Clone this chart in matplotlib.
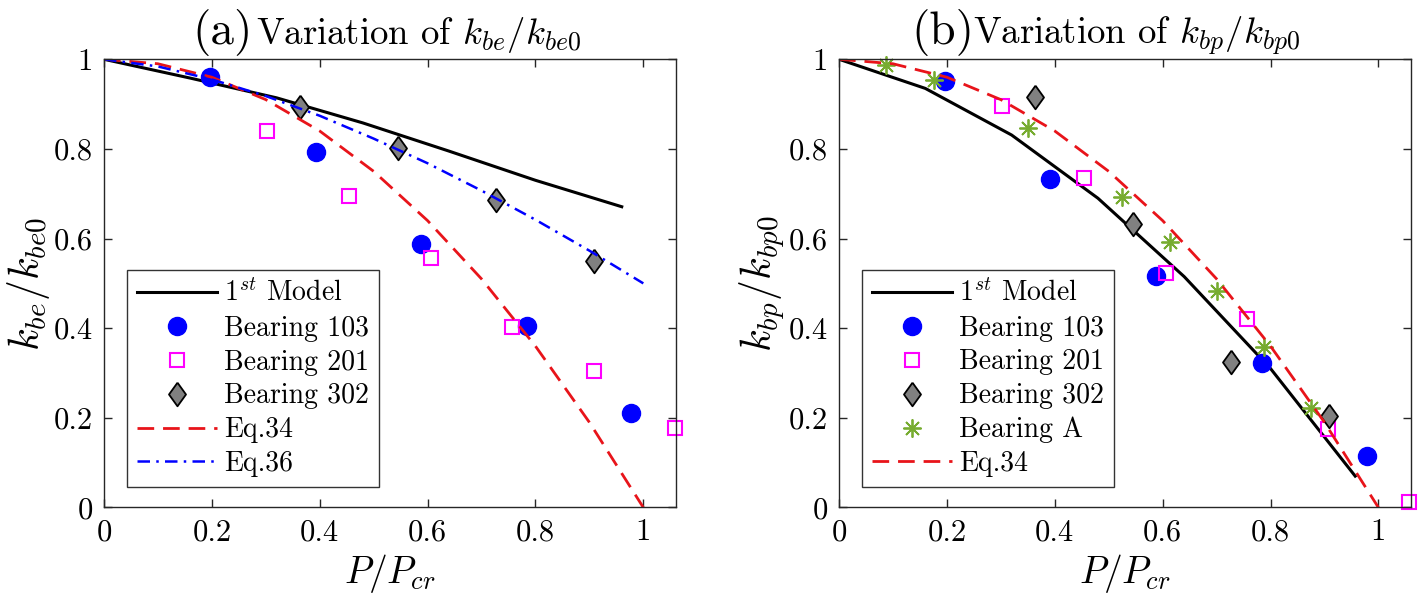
import matplotlib
matplotlib.use("Agg")
import matplotlib.pyplot as plt

plt.rcParams['font.family'] = 'serif'
plt.rcParams['font.serif'] = ['cmr10']
plt.rcParams['mathtext.fontset'] = 'cm'
plt.rcParams['axes.formatter.use_mathtext'] = True

# ---- panel (a) data ----
model_a_x = [0, 0.16, 0.32, 0.48, 0.64, 0.80, 0.96]
model_a_y = [1.0, 0.958, 0.914, 0.858, 0.795, 0.730, 0.671]
b103_a_x = [0.196, 0.393, 0.588, 0.784, 0.978]
b103_a_y = [0.961, 0.794, 0.588, 0.405, 0.210]
b201_a_x = [0.303, 0.454, 0.606, 0.757, 0.908, 1.059]
b201_a_y = [0.841, 0.696, 0.556, 0.403, 0.305, 0.178]
b302_a_x = [0.363, 0.545, 0.726, 0.908]
b302_a_y = [0.894, 0.803, 0.686, 0.551]
eq_x = [0, 0.1, 0.2, 0.3, 0.4, 0.5, 0.6, 0.7, 0.8, 0.9, 1.0]
eq34_y = [1.0, 0.99, 0.96, 0.91, 0.84, 0.75, 0.64, 0.51, 0.36, 0.19, 0.0]
eq36_y = [1.0, 0.984, 0.955, 0.918, 0.874, 0.823, 0.768, 0.707, 0.642, 0.573, 0.50]

# ---- panel (b) data ----
model_b_x = [0, 0.16, 0.32, 0.48, 0.64, 0.80, 0.957]
model_b_y = [1.0, 0.935, 0.831, 0.690, 0.515, 0.310, 0.070]
b103_b_x = [0.196, 0.392, 0.587, 0.784, 0.978]
b103_b_y = [0.952, 0.733, 0.516, 0.323, 0.115]
b201_b_x = [0.303, 0.454, 0.606, 0.756, 0.907, 1.057]
b201_b_y = [0.896, 0.734, 0.524, 0.420, 0.175, 0.0125]
b302_b_x = [0.363, 0.545, 0.726, 0.908]
b302_b_y = [0.915, 0.632, 0.324, 0.204]
bA_x = [0.087, 0.176, 0.350, 0.525, 0.613, 0.701, 0.787, 0.875]
bA_y = [0.987, 0.954, 0.847, 0.693, 0.593, 0.483, 0.358, 0.221]

ticks = [0, 0.2, 0.4, 0.6, 0.8, 1]
tick_labels = ['0', '0.2', '0.4', '0.6', '0.8', '1']

diamond = [(0, 1), (0.72, 0), (0, -1), (-0.72, 0), (0, 1)]
red = '#E8141A'
green = '#77AC30'

fig = plt.figure(figsize=(14.24, 6.03), dpi=100)
ax1 = fig.add_axes([0.0730, 0.1584, 0.4015, 0.7433])
ax2 = fig.add_axes([0.5892, 0.1584, 0.4015, 0.7433])


def style(ax, ylab):
    ax.set_xlim(0, 1.06)
    ax.set_ylim(0, 1)
    ax.set_xticks(ticks)
    ax.set_xticklabels(tick_labels)
    ax.set_yticks(ticks)
    ax.set_yticklabels(tick_labels)
    ax.tick_params(direction='in', top=True, right=True, length=6, width=1,
                   labelsize=22, colors='#262626', pad=8)
    for tl in ax.get_xticklabels() + ax.get_yticklabels():
        tl.set_color('black')
    for s in ax.spines.values():
        s.set_color('#262626')
        s.set_linewidth(1)
    ax.set_xlabel(r'$P/P_{cr}$', fontsize=27, labelpad=4)
    ax.set_ylabel(ylab, fontsize=30, labelpad=1)


def add_legend(ax):
    leg = ax.legend(loc='lower left', bbox_to_anchor=(0.04, 0.046), borderaxespad=0, fontsize=20,
                    frameon=True, fancybox=False, edgecolor='black', handlelength=2.9,
                    handletextpad=0.25, labelspacing=0.27, borderpad=0.35)
    leg.get_frame().set_linewidth(1)


# panel (a)
ax1.plot(model_a_x, model_a_y, color='black', lw=2.2, label=r'$1^{st}$ Model')
ax1.plot(b103_a_x, b103_a_y, 'o', color='#0000FF', ms=13, clip_on=False, label='Bearing 103')
ax1.plot(b201_a_x, b201_a_y, 's', mfc='none', mec='#FF00FF', mew=1.5, ms=10, clip_on=False, label='Bearing 201')
ax1.plot(b302_a_x, b302_a_y, marker=diamond, ls='none', mfc='#808080', mec='black', mew=1.3, ms=17,
         clip_on=False, label='Bearing 302')
ax1.plot(eq_x, eq34_y, color=red, lw=2, dashes=(6, 3.2), label='Eq.34')
ax1.plot(eq_x, eq36_y, color='#0000FF', lw=1.8, dashes=(5, 2.5, 1, 2.5), label='Eq.36')
style(ax1, r'$k_{be}/k_{be0}$')
add_legend(ax1)
ax1.text(0.155, 1.035, '(a)', transform=ax1.transAxes, fontsize=34, va='baseline', ha='left')
ax1.text(0.266, 1.035, r'Variation of $k_{be}/k_{be0}$', transform=ax1.transAxes, fontsize=26.5,
         va='baseline', ha='left')

# panel (b)
ax2.plot(model_b_x, model_b_y, color='black', lw=2.2, label=r'$1^{st}$ Model')
ax2.plot(b103_b_x, b103_b_y, 'o', color='#0000FF', ms=13, clip_on=False, label='Bearing 103')
ax2.plot(b201_b_x, b201_b_y, 's', mfc='none', mec='#FF00FF', mew=1.5, ms=10, clip_on=False, label='Bearing 201')
ax2.plot(b302_b_x, b302_b_y, marker=diamond, ls='none', mfc='#808080', mec='black', mew=1.3, ms=17,
         clip_on=False, label='Bearing 302')
ax2.plot(bA_x, bA_y, marker=(8, 2, 0), ls='none', color=green, mew=1.3, ms=13, clip_on=False,
         label='Bearing A')
ax2.plot(eq_x, eq34_y, color=red, lw=2, dashes=(6, 3.2), label='Eq.34')
style(ax2, r'$k_{bp}/k_{bp0}$')
add_legend(ax2)
ax2.text(0.127, 1.035, '(b)', transform=ax2.transAxes, fontsize=34, va='baseline', ha='left')
ax2.text(0.235, 1.035, r'Variation of $k_{bp}/k_{bp0}$', transform=ax2.transAxes, fontsize=26.5,
         va='baseline', ha='left')

fig.savefig('out.png', dpi=100)
